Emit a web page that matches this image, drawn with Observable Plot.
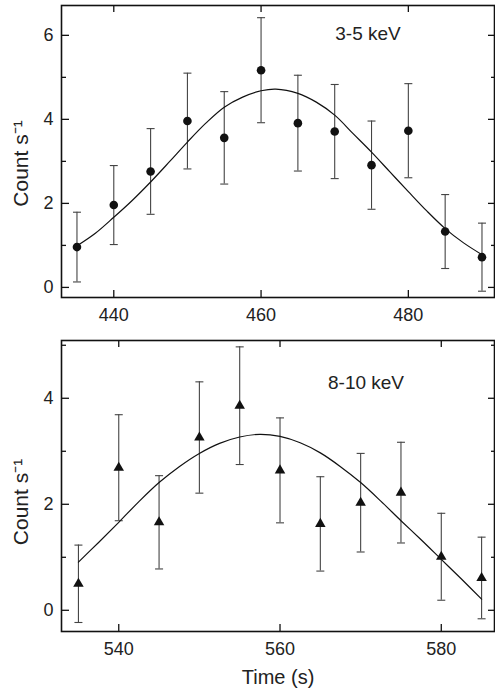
<!DOCTYPE html>
<html><head><meta charset="utf-8">
<script src="https://cdn.jsdelivr.net/npm/d3@7"></script>
<script src="https://cdn.jsdelivr.net/npm/@observablehq/plot@0.6"></script>
<style>
body{margin:0;background:#fff;}
#chart{width:495px;height:696px;}
#chart svg{display:block;font-family:"Liberation Sans",Arial,Helvetica,sans-serif;}
</style></head><body><div id="chart"></div>
<script>
// ---- Panel A: 3-5 keV ----
const timeA = [435,440,445,450,455,460,465,470,475,480,485,490];
const rateA = [0.96,1.96,2.76,3.96,3.56,5.17,3.91,3.71,2.91,3.73,1.33,0.72];
const errA  = [0.83,0.94,1.02,1.14,1.10,1.25,1.14,1.12,1.05,1.12,0.88,0.81];
const fitTimeA = [435,437.5,440,442.5,445,447.5,450,452.5,455,457.5,460,462,465,467.5,470,472.5,475,477.5,480,482.5,485,487.5,490];
const fitRateA = [0.99,1.29,1.67,2.07,2.51,2.98,3.46,3.91,4.29,4.53,4.68,4.72,4.62,4.41,4.10,3.66,3.22,2.75,2.28,1.82,1.40,1.06,0.78];
const xTicksA = [440,460,480];
const yTicksA = [0,2,4,6];
const yMinorA = [1,3,5];
const labelA = "3-5 keV";

// ---- Panel B: 8-10 keV ----
const timeB = [535,540,545,550,555,560,565,570,575,580,585];
const rateB = [0.50,2.69,1.66,3.26,3.86,2.64,1.63,2.03,2.22,1.01,0.61];
const errB  = [0.73,1.00,0.88,1.05,1.11,0.99,0.89,0.93,0.95,0.82,0.77];
const fitTimeB = [535,537.5,540,542.5,545,547.5,550,552.5,555,557.5,560,562.5,565,567.5,570,572.5,575,577.5,580,582.5,585];
const fitRateB = [0.91,1.28,1.66,2.05,2.41,2.71,2.96,3.15,3.27,3.32,3.28,3.16,2.97,2.71,2.41,2.06,1.69,1.33,0.96,0.59,0.21];
const xTicksB = [540,560,580];
const yTicksB = [0,2,4];
const yMinorB = [1,3,5];
const labelB = "8-10 keV";

const yLabel = "Count s\u207B\u00B9";
const xLabel = "Time (s)";

const capSymbol = {draw(ctx, size){ const w = Math.sqrt(size/Math.PI); ctx.moveTo(-w,0); ctx.lineTo(w,0); }};

function panel({time, rate, err, fitTime, fitRate, xTicks, yTicks, yMinor, label, symbol, r,
                height, marginTop, marginBottom, xDomain, yDomain, xTitle, labelDx, labelDy, yLabelDy}) {
  const width = 495, marginLeft = 61, marginRight = 1;
  const innerW = width - marginLeft - marginRight;
  const innerH = height - marginTop - marginBottom;
  const pts = time.map((t,i)=>({t, v: rate[i], lo: rate[i]-err[i], hi: rate[i]+err[i]}));
  const fit = fitTime.map((t,i)=>({t, v: fitRate[i]}));
  const ink = "#111", bar = "#444";
  const marks = [
      Plot.ruleX(pts, {x: "t", y1: "lo", y2: "hi", stroke: bar, strokeWidth: 1.1}),
      Plot.dot(pts, {x: "t", y: "lo", symbol: capSymbol, r: 4, stroke: bar, fill: "none", strokeWidth: 1.1}),
      Plot.dot(pts, {x: "t", y: "hi", symbol: capSymbol, r: 4, stroke: bar, fill: "none", strokeWidth: 1.1}),
      Plot.line(fit, {x: "t", y: "v", curve: "catmull-rom", stroke: ink, strokeWidth: 1.2}),
      Plot.dot(pts, {x: "t", y: "v", symbol, r, fill: ink, stroke: "none"}),
      // inward ticks
      Plot.tickX(xTicks, {x: d=>d, insetTop: innerH - 7, stroke: ink, strokeWidth: 1.3}),
      Plot.tickX(xTicks, {x: d=>d, insetBottom: innerH - 7, stroke: ink, strokeWidth: 1.3}),
      Plot.tickY(yTicks, {y: d=>d, insetRight: innerW - 8, stroke: ink, strokeWidth: 1.3}),
      Plot.tickY(yMinor, {y: d=>d, insetRight: innerW - 5, stroke: ink, strokeWidth: 1.3}),
      Plot.tickY(yTicks, {y: d=>d, insetLeft: innerW - 6, stroke: ink, strokeWidth: 1.3}),
      Plot.tickY(yMinor, {y: d=>d, insetLeft: innerW - 3, stroke: ink, strokeWidth: 1.3}),
      Plot.frame({stroke: ink, strokeWidth: 1.6}),
      Plot.axisX(xTicks, {tickSize: 0, tickPadding: 11, fontSize: 18, tickFormat: d=>String(d), label: null}),
      Plot.axisY(yTicks, {tickSize: 0, tickPadding: 8, fontSize: 18, tickFormat: d=>String(d), label: null}),
      Plot.text([yLabel], {text: d=>d, frameAnchor: "left", textAnchor: "middle", lineAnchor: "middle",
                           rotate: -90, dx: -40, dy: yLabelDy, fontSize: 21, fill: "#222"}),
      Plot.text([label], {text: d=>d, frameAnchor: "top", textAnchor: "middle", lineAnchor: "middle",
                          dx: labelDx, dy: labelDy, fontSize: 19, fill: "#222"})
  ];
  if (xTitle) marks.push(Plot.text([xTitle], {text: d=>d, frameAnchor: "bottom", textAnchor: "middle", lineAnchor: "middle",
                                              dy: 46, fontSize: 20, fill: "#222"}));
  return Plot.plot({
    width, height, marginLeft, marginRight, marginTop, marginBottom,
    style: {fontSize: "18px", fontFamily: '"Liberation Sans",Arial,Helvetica,sans-serif', color: "#222", background: "#fff"},
    x: {domain: xDomain},
    y: {domain: yDomain},
    marks
  });
}

const chart = document.getElementById("chart");
chart.append(panel({time: timeA, rate: rateA, err: errA, fitTime: fitTimeA, fitRate: fitRateA,
  xTicks: xTicksA, yTicks: yTicksA, yMinor: yMinorA, label: labelA, symbol: "circle", r: 4.3,
  height: 330, marginTop: 5, marginBottom: 33, xDomain: [432.9, 491.7], yDomain: [-0.24, 6.71],
  xTitle: null, labelDx: 90, labelDy: 28, yLabelDy: 12}));
chart.append(panel({time: timeB, rate: rateB, err: errB, fitTime: fitTimeB, fitRate: fitRateB,
  xTicks: xTicksB, yTicks: yTicksB, yMinor: yMinorB, label: labelB, symbol: "triangle", r: 3.9,
  height: 366, marginTop: 10, marginBottom: 65, xDomain: [532.9, 586.6], yDomain: [-0.40, 5.09],
  xTitle: xLabel, labelDx: 88, labelDy: 42, yLabelDy: 16}));
</script></body></html>
